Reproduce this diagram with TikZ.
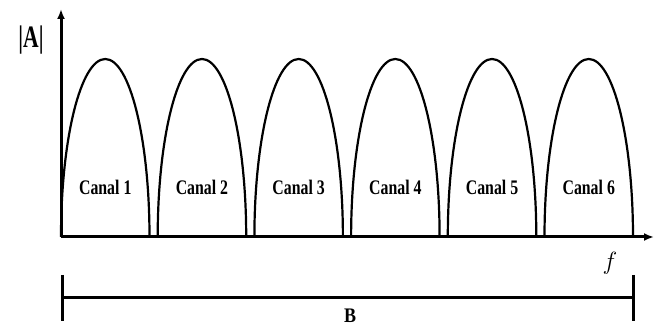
\documentclass[tikz,border=0pt]{standalone}
\usepackage{fontspec}
\setmainfont{Liberation Serif}
\usetikzlibrary{arrows.meta}
\tikzset{
  axisline/.style={line width=3pt, -{Latex[length=10pt,width=8pt]}},
  lobe/.style={line width=2.2pt},
  chanlabel/.style={font=\bfseries\fontsize{18}{18}\selectfont, inner sep=0pt},
  spanline/.style={line width=3pt},
}
\begin{document}
\begin{tikzpicture}[x=1pt,y=1pt]
  \useasboundingbox (0,0) rectangle (656,329);
  % axes
  \coordinate (o) at (61,92);
  \coordinate (ytip) at (61,320);
  \coordinate (xtip) at (654,92);
  % spectral lobes, one per channel
  \foreach \i in {0,...,5}{
    \pgfmathsetmacro{\xl}{61+96.7*\i}
    \draw[lobe] (\xl,92) arc[start angle=180,end angle=0,x radius=44.25,y radius=178];
    \node[chanlabel] (c\i) at ({\xl+44.25},142) {\scalebox{0.88}[1.15]{Canal \the\numexpr\i+1\relax}};
  }
  \draw[axisline] (o) -- (ytip);
  \draw[axisline] (o) -- (xtip);
  \node[font=\bfseries\fontsize{24}{24}\selectfont, inner sep=0pt] (amp) at (31,289) {\scalebox{0.9}[1.3]{|A|}};
  \node[font=\itshape\fontsize{26}{26}\selectfont, inner sep=0pt] (freq) at (610,66) {$f$};
  % bandwidth span
  \coordinate (bl) at (62,31);
  \coordinate (br) at (633,31);
  \draw[spanline] (bl) -- (br);
  \draw[spanline] (62,54) -- (62,8);
  \draw[spanline] (633,54) -- (633,8);
  \node[font=\bfseries\fontsize{18}{18}\selectfont, inner sep=0pt] (bw) at (350,13) {\scalebox{1}[1.15]{B}};
\end{tikzpicture}
\end{document}
